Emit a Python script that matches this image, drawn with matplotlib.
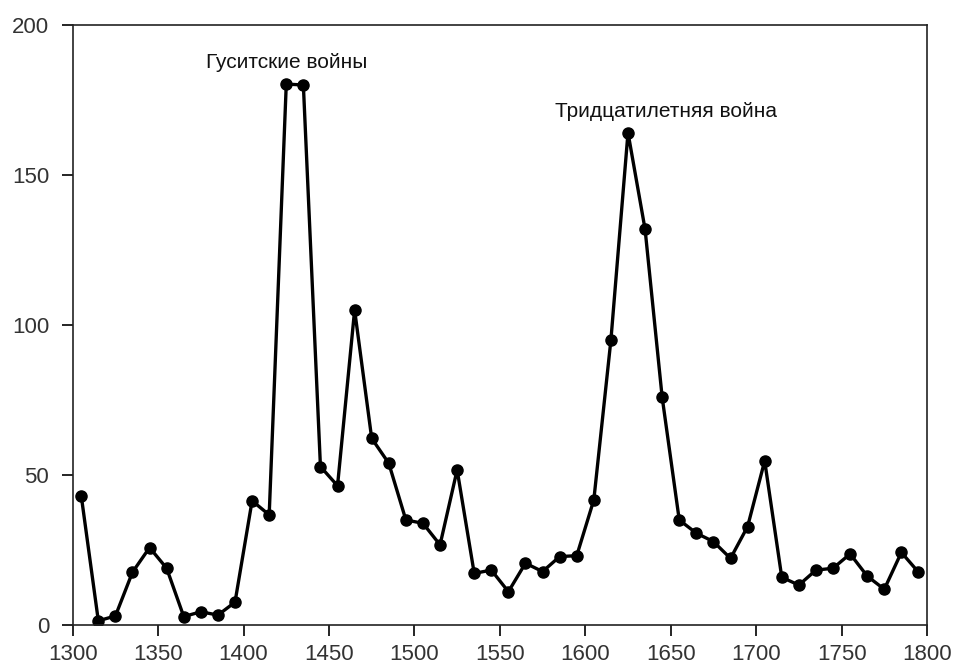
import matplotlib.pyplot as plt

# decade midpoints, 1305 .. 1795
years = list(range(1305, 1800, 10))
counts = [
    43.1, 1.4, 3.0, 17.6, 25.8, 18.9, 2.8, 4.4, 3.3, 7.6,
    41.4, 36.7, 180.3, 180.0, 52.8, 46.4, 105.0, 62.2, 53.9, 35.0,
    33.9, 26.7, 51.7, 17.2, 18.3, 11.1, 20.6, 17.8, 22.8, 23.1,
    41.7, 95.0, 164.1, 131.9, 75.9, 35.0, 30.6, 27.8, 22.2, 32.8,
    54.7, 15.9, 13.3, 18.3, 18.9, 23.7, 16.3, 11.9, 24.2, 17.6,
]
x_ticks = list(range(1300, 1801, 50))
y_ticks = [0, 50, 100, 150, 200]
events = ["Гуситские войны", "Тридцатилетняя война"]
event_years = [1425.5, 1647]
event_levels = [187.5, 171]

plt.rcParams['font.family'] = ['Liberation Sans', 'DejaVu Sans']

fig = plt.figure(figsize=(9.54, 6.68), dpi=100)
ax = fig.add_axes([0.0762, 0.0644, 0.8955, 0.8982])

ax.plot(years, counts, color="black", linewidth=2.4, marker="o",
        markersize=8, markerfacecolor="black", markeredgecolor="black")

for label, xv, yv in zip(events, event_years, event_levels):
    ax.text(xv, yv, label, ha="center", va="center", fontsize=15,
            color="#111111")

ax.set_xlim(1300, 1800)
ax.set_ylim(0, 200)
ax.set_xticks(x_ticks)
ax.set_yticks(y_ticks)
ax.tick_params(axis="both", direction="out", length=8, width=1.2,
               labelsize=16, labelcolor="#333333")
ax.tick_params(axis="x", pad=6)
ax.tick_params(axis="y", pad=9)
for s in ax.spines.values():
    s.set_linewidth(1.2)
    s.set_color("#222222")

fig.savefig("out.png", dpi=100)
